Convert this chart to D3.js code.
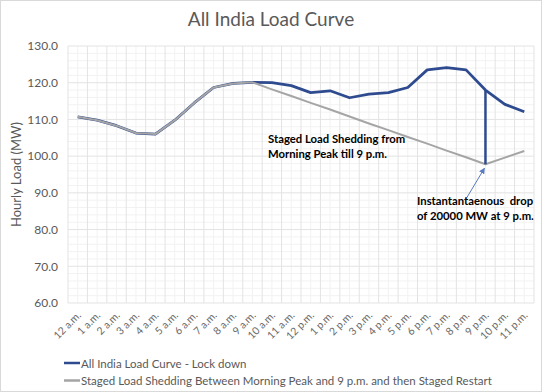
<!DOCTYPE html>
<html>
<head>
<meta charset="utf-8">
<script src="https://cdn.jsdelivr.net/npm/d3@7"></script>
<style>
  body { margin: 0; background: #fff; }
  svg text { font-family: Lato, "Open Sans", sans-serif; }
</style>
</head>
<body>
<div id="chart"></div>
<script>
// hour labels on the x axis
const hours = ["12 a.m.", "1 a.m.", "2 a.m.", "3 a.m.", "4 a.m.", "5 a.m.", "6 a.m.", "7 a.m.",
  "8 a.m.", "9 a.m.", "10 a.m.", "11 a.m.", "12 p.m.", "1 p.m.", "2 p.m.", "3 p.m.", "4 p.m.",
  "5 p.m.", "6 p.m.", "7 p.m.", "8 p.m.", "9 p.m.", "10 p.m.", "11 p.m."];

// lock down load curve
const lockdown = [110.7, 109.8, 108.3, 106.3, 106.0, 109.8, 114.5, 118.7, 119.8, 120.1, 120.0, 119.2,
  117.3, 117.8, 115.9, 116.9, 117.3, 118.7, 123.5, 124.1, 123.5, 118.0, 114.1, 112.1];

// staged shedding then restart
const staged = [110.7, 109.8, 108.3, 106.3, 106.0, 109.8, 114.5, 118.7, 119.8, 120.1, 118.2, 116.4,
  114.5, 112.7, 110.8, 108.9, 107.1, 105.2, 103.4, 101.5, 99.7, 97.8, 99.6, 101.4];

const yTicks = [60, 70, 80, 90, 100, 110, 120, 130];

const width = 545, height = 392;
const margin = { left: 68, right: 11, top: 46, bottom: 89 };
const grey = "#595959";

const svg = d3.select("#chart").append("svg")
  .attr("width", width)
  .attr("height", height);

// chart frame
svg.append("rect")
  .attr("x", 0.5).attr("y", 0.5)
  .attr("width", 541).attr("height", 391)
  .attr("fill", "#fff")
  .attr("stroke", "#d9d9d9");

const x = d3.scaleBand()
  .domain(hours)
  .range([margin.left, width - margin.right]);

const y = d3.scaleLinear()
  .domain([60, 130])
  .range([height - margin.bottom, margin.top]);

const cx = d => x(d) + x.bandwidth() / 2;

// minor grid
const grid = svg.append("g");
grid.selectAll(".hminor")
  .data(d3.range(62, 130, 2).filter(v => v % 10 !== 0))
  .enter().append("line")
  .attr("x1", margin.left).attr("x2", width - margin.right)
  .attr("y1", d => y(d)).attr("y2", d => y(d))
  .attr("stroke", "#f2f2f2");
grid.selectAll(".vminor")
  .data(hours)
  .enter().append("line")
  .attr("x1", d => cx(d)).attr("x2", d => cx(d))
  .attr("y1", y(60)).attr("y2", y(130))
  .attr("stroke", "#f2f2f2");

// major grid
grid.selectAll(".hmajor")
  .data(yTicks)
  .enter().append("line")
  .attr("x1", margin.left).attr("x2", width - margin.right)
  .attr("y1", d => y(d)).attr("y2", d => y(d))
  .attr("stroke", "#e3e3e3");
grid.selectAll(".vmajor")
  .data(hours.concat(["end"]))
  .enter().append("line")
  .attr("x1", (d, i) => margin.left + i * x.bandwidth())
  .attr("x2", (d, i) => margin.left + i * x.bandwidth())
  .attr("y1", y(60)).attr("y2", y(130))
  .attr("stroke", "#e3e3e3");

// y axis
const yAxis = svg.append("g")
  .attr("transform", `translate(${margin.left},0)`)
  .call(d3.axisLeft(y).tickValues(yTicks).tickFormat(d3.format(".1f")).tickSize(0).tickPadding(10));
yAxis.select(".domain").remove();
yAxis.selectAll("text").attr("fill", grey).style("font-size", "12px");

// x axis
const xAxis = svg.append("g")
  .attr("transform", `translate(0,${y(60)})`)
  .call(d3.axisBottom(x).tickSize(0));
xAxis.select(".domain").remove();
xAxis.selectAll("text")
  .attr("fill", "#6a6a6a")
  .style("font-size", "10.5px")
  .attr("text-anchor", "end")
  .attr("dy", null)
  .attr("y", 0)
  .attr("transform", "translate(4,13) rotate(-45)");

// lines: lock down first, staged drawn over it
const line = d3.line()
  .x((d, i) => cx(hours[i]))
  .y(d => y(d));

svg.append("path")
  .datum(lockdown)
  .attr("fill", "none")
  .attr("stroke", "#2f4b8f")
  .attr("stroke-width", 2.75)
  .attr("stroke-linejoin", "round")
  .attr("d", line);

svg.append("path")
  .datum(staged)
  .attr("fill", "none")
  .attr("stroke", "#a5a5a5")
  .attr("stroke-width", 2)
  .attr("stroke-linejoin", "round")
  .attr("d", line);

// drop at 9 p.m.
const dropX = cx("9 p.m.");
svg.append("line")
  .attr("x1", dropX).attr("x2", dropX)
  .attr("y1", y(lockdown[21])).attr("y2", y(staged[21]))
  .attr("stroke", "#2f4b8f")
  .attr("stroke-width", 2.5);

// arrow to drop point
svg.append("defs").append("marker")
  .attr("id", "arrow")
  .attr("viewBox", "0 0 10 10")
  .attr("refX", 9).attr("refY", 5)
  .attr("markerWidth", 6).attr("markerHeight", 6)
  .attr("orient", "auto")
  .append("path")
  .attr("d", "M0,0L10,5L0,10z")
  .attr("fill", "#5b7bbf");
svg.append("line")
  .attr("x1", 466).attr("y1", 199)
  .attr("x2", dropX - 1).attr("y2", y(staged[21]) + 4)
  .attr("stroke", "#5b7bbf")
  .attr("stroke-width", 1)
  .attr("marker-end", "url(#arrow)");

// annotations
const note = (tx, ty, lines) => {
  svg.append("text")
    .attr("x", tx).attr("y", ty)
    .style("font-size", "11.3px")
    .style("font-weight", "bold")
    .style("white-space", "pre")
    .attr("fill", "#000")
    .selectAll("tspan")
    .data(lines)
    .enter().append("tspan")
    .attr("x", tx)
    .attr("dy", (d, i) => i ? 15 : 0)
    .text(d => d);
};
note(268, 143, ["Staged Load Shedding from", "Morning Peak till 9 p.m."]);
note(417, 205, ["Instantantaenous  drop", "of 20000 MW at 9 p.m."]);

// title
svg.append("text")
  .attr("x", 271).attr("y", 26)
  .attr("text-anchor", "middle")
  .attr("fill", grey)
  .style("font-size", "19px")
  .text("All India Load Curve");

// y title
svg.append("text")
  .attr("transform", `translate(21,${(y(60) + y(130)) / 2}) rotate(-90)`)
  .attr("text-anchor", "middle")
  .attr("fill", grey)
  .style("font-size", "13px")
  .text("Hourly Load (MW)");

// legend
const legendItems = [
  { label: "All India Load Curve - Lock down", color: "#2f4b8f" },
  { label: "Staged Load Shedding Between Morning Peak and 9 p.m. and then Staged Restart", color: "#a5a5a5" }
];
const legend = svg.append("g")
  .selectAll("g")
  .data(legendItems)
  .enter().append("g")
  .attr("transform", (d, i) => `translate(64,${363 + i * 17.5})`);
legend.append("line")
  .attr("x1", 0).attr("x2", 16)
  .attr("stroke", d => d.color)
  .attr("stroke-width", 2.5);
legend.append("text")
  .attr("x", 17).attr("y", 4.5)
  .attr("fill", grey)
  .style("font-size", "11.5px")
  .text(d => d.label);
</script>
</body>
</html>
